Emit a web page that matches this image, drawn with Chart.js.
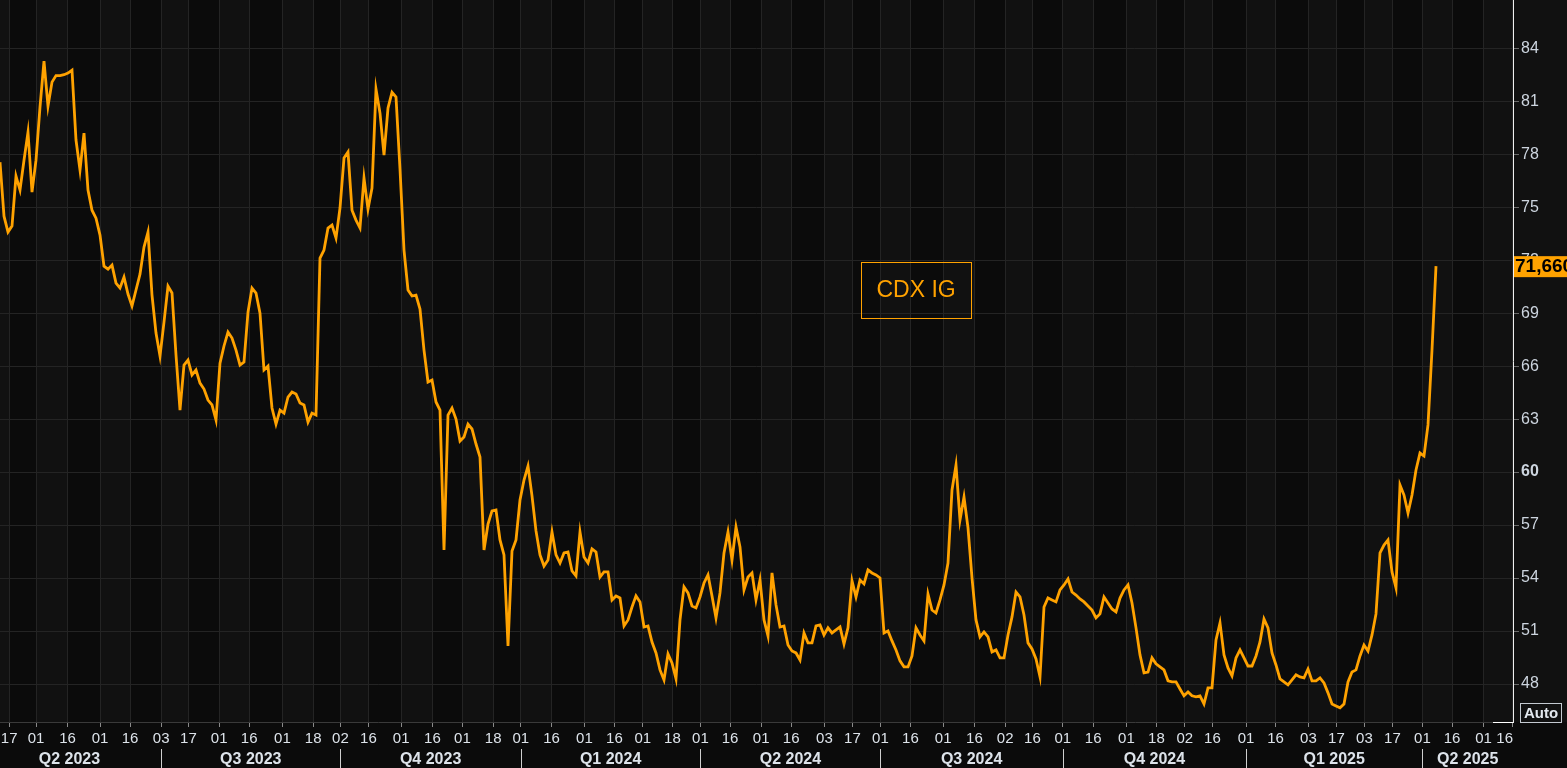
<!DOCTYPE html>
<html>
<head>
<meta charset="utf-8">
<title>CDX IG</title>
<script src="https://cdn.jsdelivr.net/npm/chart.js@4.4.1/dist/chart.umd.min.js"></script>
<style>
  html, body { margin: 0; padding: 0; background: #0b0b0b; overflow: hidden; }
  #wrap { width: 1567px; height: 768px; }
</style>
</head>
<body>
<div id="wrap"><canvas id="cdx" width="1567" height="768"></canvas></div>
<script>
// CDX IG spread, one reading per sample step (oldest first)
const seriesName = 'CDX IG';
const spread = [
  77.55, 74.49, 73.59, 73.93, 76.76, 75.97, 77.66, 79.25, 75.85, 77.66, 80.66, 83.27,
  80.72, 82.08, 82.45, 82.45, 82.50, 82.59, 82.76, 78.80, 77.10, 79.19, 75.97, 74.83,
  74.38, 73.42, 71.66, 71.49, 71.72, 70.70, 70.42, 71.04, 70.08, 69.40, 70.31, 71.21,
  72.74, 73.59, 70.02, 67.87, 66.57, 68.49, 70.53, 70.14, 66.63, 63.51, 66.06, 66.34,
  65.50, 65.78, 65.04, 64.70, 64.08, 63.80, 62.95, 66.17, 67.14, 67.93, 67.59, 66.91,
  66.06, 66.23, 69.06, 70.42, 70.14, 69.00, 65.78, 66.00, 63.63, 62.72, 63.51, 63.34,
  64.25, 64.53, 64.42, 63.91, 63.80, 62.83, 63.34, 63.23, 72.12, 72.57, 73.82, 73.99,
  73.25, 74.95, 77.78, 78.12, 74.83, 74.27, 73.82, 76.65, 74.89, 76.08, 81.68, 80.32,
  77.95, 80.61, 81.51, 81.23, 77.15, 72.57, 70.31, 69.97, 70.02, 69.23, 66.91, 65.10,
  65.21, 63.97, 63.51, 55.59, 63.23, 63.63, 63.00, 61.76, 61.99, 62.72, 62.44, 61.59,
  60.85, 55.59, 57.06, 57.80, 57.85, 56.16, 55.31, 50.16, 55.53, 56.16, 58.42, 59.55,
  60.34, 58.65, 56.67, 55.31, 54.68, 55.02, 56.61, 55.31, 54.85, 55.42, 55.48, 54.40,
  54.12, 56.61, 55.19, 54.85, 55.65, 55.48, 54.06, 54.35, 54.35, 52.76, 52.99, 52.87,
  51.29, 51.63, 52.36, 52.99, 52.65, 51.23, 51.29, 50.38, 49.76, 48.80, 48.23, 49.70,
  49.19, 48.29, 51.63, 53.50, 53.16, 52.42, 52.31, 52.93, 53.72, 54.18, 52.99, 51.74,
  53.16, 55.42, 56.61, 55.02, 56.89, 55.76, 53.33, 54.06, 54.29, 52.76, 53.89, 51.63,
  50.72, 54.29, 52.48, 51.23, 51.29, 50.21, 49.87, 49.76, 49.36, 50.89, 50.33, 50.33,
  51.29, 51.35, 50.78, 51.18, 50.89, 51.06, 51.23, 50.27, 51.18, 53.84, 52.93, 53.89,
  53.67, 54.46, 54.29, 54.18, 54.01, 50.89, 51.01, 50.44, 49.93, 49.31, 48.97, 48.97,
  49.59, 51.18, 50.78, 50.44, 53.10, 52.19, 52.02, 52.76, 53.61, 54.85, 58.99, 60.40,
  57.29, 58.59, 56.84, 54.01, 51.63, 50.67, 50.95, 50.67, 49.82, 49.93, 49.48, 49.48,
  50.78, 51.80, 53.21, 52.93, 51.91, 50.33, 49.99, 49.42, 48.40, 52.36, 52.87, 52.76,
  52.65, 53.33, 53.61, 53.95, 53.21, 53.04, 52.82, 52.65, 52.42, 52.19, 51.74, 51.97,
  52.93, 52.59, 52.25, 52.08, 52.87, 53.33, 53.61, 52.59, 51.18, 49.65, 48.63, 48.68,
  49.48, 49.14, 48.97, 48.80, 48.18, 48.12, 48.12, 47.72, 47.33, 47.55, 47.33, 47.27,
  47.33, 46.87, 47.78, 47.78, 50.50, 51.46, 49.65, 48.91, 48.46, 49.48, 49.93, 49.48,
  49.02, 49.02, 49.59, 50.38, 51.68, 51.18, 49.76, 49.08, 48.29, 48.12, 47.95, 48.23,
  48.52, 48.40, 48.35, 48.85, 48.18, 48.18, 48.35, 48.06, 47.50, 46.87, 46.76, 46.65,
  46.87, 48.12, 48.68, 48.80, 49.59, 50.21, 49.87, 50.78, 51.97, 55.42, 55.87, 56.16,
  54.35, 53.44, 59.27, 58.70, 57.68, 58.70, 60.12, 61.08, 60.91, 62.67, 66.91, 71.66
];

// x axis: tick positions (in sample steps) and their day-of-month labels
const xTickPos = [
  2.3, 9, 16.9, 25, 32.5, 40.3, 47.1, 54.8, 62.3, 70.6, 78.3, 85.1, 92.1, 100.3, 108.1,
  115.6, 123.3, 130.2, 137.9, 146.1, 153.6, 160.7, 168.1, 175.1, 182.5, 190.3, 197.8,
  206.1, 213.1, 220.1, 227.6, 235.8, 243.6, 251.3, 258.1, 265.7, 273.3, 281.6, 289.1,
  296.2, 303.1, 311.5, 318.9, 327.1, 334.1, 341.1, 348.1, 355.6, 363.0, 370.9, 378.2
];
const xTickText = [
  '17', '01', '16', '01', '16', '03', '17', '01', '16', '01', '18', '02', '16', '01', '16',
  '01', '18', '01', '16', '01', '16', '01', '18', '01', '16', '01', '16',
  '03', '17', '01', '16', '01', '16', '02', '16', '01', '16', '01', '18',
  '02', '16', '01', '16', '03', '17', '03', '17', '01', '16', '01', '16'
];

// quarters: start (sample steps) and caption
const quarterStart = [-5.6, 40.3, 85.1, 130.2, 175.1, 220.1, 265.7, 311.5, 355.6];
const quarterText = ['Q2 2023', 'Q3 2023', 'Q4 2023', 'Q1 2024', 'Q2 2024', 'Q3 2024', 'Q4 2024', 'Q1 2025', 'Q2 2025'];

// y axis ticks
const yTicks = [48, 51, 54, 57, 60, 63, 66, 69, 72, 75, 78, 81, 84];

const ORANGE = '#ffa200';
const FONT = '"Liberation Sans", Arial, sans-serif';

// no extra room for half labels at the ends of the axes
function noPad(s) {
  s.paddingTop = 0;
  s.paddingBottom = 0;
  s.paddingLeft = 0;
  s.paddingRight = 0;
}

// alternating column shading behind the plot
const bgBands = {
  id: 'bgBands',
  beforeDraw(chart) {
    const { ctx, chartArea: a, scales: { x } } = chart;
    ctx.save();
    ctx.fillStyle = '#0b0b0b';
    ctx.fillRect(0, 0, chart.width, chart.height);
    ctx.fillStyle = '#111111';
    ctx.fillRect(a.right, 0, chart.width - a.right, a.bottom);
    const edges = [x.min, ...xTickPos, x.max];
    for (let k = 0; k < edges.length - 1; k++) {
      const l = x.getPixelForValue(edges[k]);
      const r = x.getPixelForValue(edges[k + 1]);
      ctx.fillStyle = k % 2 === 0 ? '#111111' : '#0b0b0b';
      ctx.fillRect(l, a.top, r - l, a.bottom - a.top);
    }
    ctx.restore();
  }
};

// day labels, quarter row and the small boxes
const decorations = {
  id: 'decorations',
  afterDraw(chart) {
    const { ctx, chartArea: a, scales: { x, y } } = chart;
    ctx.save();

    // day-of-month labels, kept inside the plot width
    ctx.fillStyle = '#dde3ea';
    ctx.font = '15px ' + FONT;
    ctx.textAlign = 'center';
    ctx.textBaseline = 'middle';
    xTickPos.forEach((v, i) => {
      const w = ctx.measureText(xTickText[i]).width;
      let cx = x.getPixelForValue(v);
      cx = Math.max(a.left + w / 2, Math.min(cx, a.right - w / 2));
      ctx.fillText(xTickText[i], cx, a.bottom + 17);
    });

    // quarter separators and captions
    ctx.font = 'bold 16px ' + FONT;
    ctx.strokeStyle = '#cfcfcf';
    ctx.lineWidth = 1;
    quarterStart.forEach((s, i) => {
      const e = i < quarterStart.length - 1 ? quarterStart[i + 1] : x.max;
      if (s > x.min) {
        const px = Math.round(x.getPixelForValue(s)) + 0.5;
        ctx.beginPath();
        ctx.moveTo(px, a.bottom + 27);
        ctx.lineTo(px, chart.height);
        ctx.stroke();
      }
      const cx = x.getPixelForValue((s + e) / 2);
      ctx.fillText(quarterText[i], cx, a.bottom + 38);
    });

    // short white stretch of the time axis at the right end
    ctx.strokeStyle = '#ffffff';
    ctx.beginPath();
    ctx.moveTo(a.right - 20, a.bottom + 0.5);
    ctx.lineTo(a.right, a.bottom + 0.5);
    ctx.stroke();

    // last value tag on the right axis
    const last = spread[spread.length - 1];
    const ly = y.getPixelForValue(last);
    ctx.fillStyle = ORANGE;
    ctx.fillRect(a.right + 1, ly - 10, chart.width - a.right, 21);
    ctx.fillStyle = '#000000';
    ctx.font = 'bold 19px ' + FONT;
    ctx.textAlign = 'left';
    ctx.fillText(last.toFixed(3).replace('.', ','), a.right + 2, ly + 1);

    // series caption box
    const bx = a.left + (a.right - a.left) * 0.5688;
    const by = a.top + (a.bottom - a.top) * 0.363;
    ctx.strokeStyle = ORANGE;
    ctx.strokeRect(Math.round(bx) + 0.5, Math.round(by) + 0.5, 110, 56);
    ctx.fillStyle = ORANGE;
    ctx.font = '23px ' + FONT;
    ctx.textAlign = 'center';
    ctx.fillText(seriesName, bx + 55.5, by + 29);

    // "Auto" box in the corner
    ctx.strokeStyle = '#c4cad1';
    ctx.strokeRect(a.right + 7.5, a.bottom - 18.5, 41, 19);
    ctx.fillStyle = '#e3e8ee';
    ctx.font = 'bold 15px ' + FONT;
    ctx.fillText('Auto', a.right + 28, a.bottom - 8);

    ctx.restore();
  }
};

Chart.defaults.font.family = FONT;

new Chart(document.getElementById('cdx'), {
  type: 'line',
  data: {
    datasets: [{
      label: seriesName,
      data: spread.map((v, i) => ({ x: i, y: v })),
      borderColor: ORANGE,
      borderWidth: 2.8,
      pointRadius: 0,
      tension: 0
    }]
  },
  options: {
    responsive: false,
    animation: false,
    devicePixelRatio: 1,
    layout: { padding: 0 },
    plugins: {
      legend: { display: false },
      tooltip: { enabled: false }
    },
    scales: {
      x: {
        type: 'linear',
        min: 0,
        max: 378.25,
        afterBuildTicks: s => { s.ticks = xTickPos.map(v => ({ value: v })); },
        afterFit: s => { s.height = 46; noPad(s); },
        grid: { color: '#242424', tickColor: '#8a8a8a', tickLength: 5 },
        border: { display: true, color: '#3a3a3a' },
        ticks: { display: false }
      },
      y: {
        position: 'right',
        min: 45.85,
        max: 86.73,
        afterBuildTicks: s => { s.ticks = yTicks.map(v => ({ value: v })); },
        afterFit: s => { s.width = 54; noPad(s); },
        grid: { color: '#242424', tickColor: '#6a6a6a', tickLength: 6 },
        border: { display: true, color: '#f0f0f0', width: 1 },
        ticks: {
          padding: 2,
          color: '#cdd5df',
          font: c => ({ family: FONT, size: 16, weight: c.tick && c.tick.value === 60 ? 'bold' : 'normal' })
        }
      }
    }
  },
  plugins: [bgBands, decorations]
});
</script>
</body>
</html>
